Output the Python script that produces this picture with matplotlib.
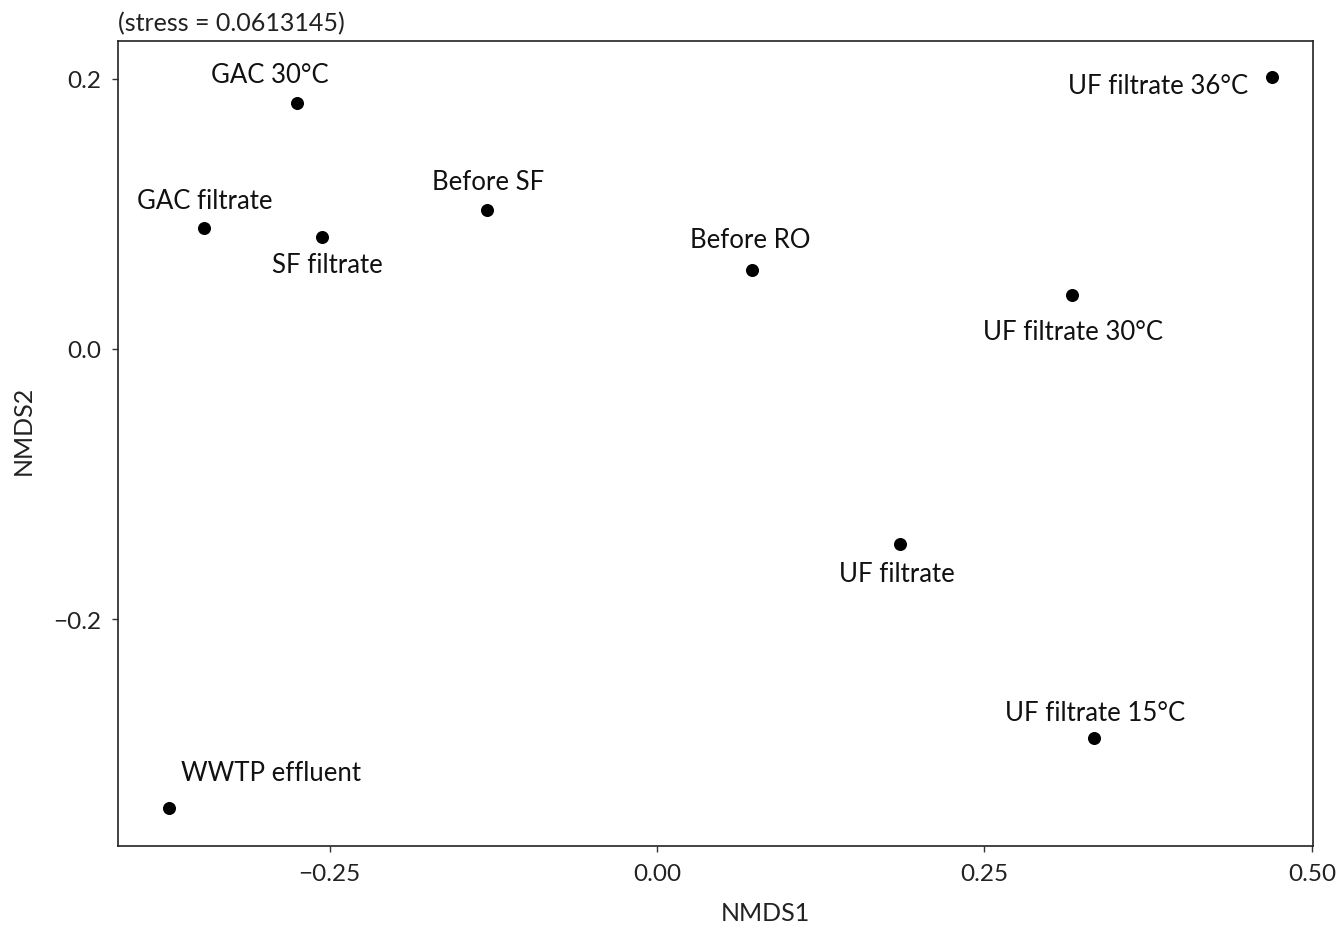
"""NMDS ordination plot of sample communities."""

import matplotlib

matplotlib.use("Agg")
import matplotlib.pyplot as plt

# sample names and NMDS scores
samples = [
    "GAC 30°C",
    "GAC filtrate",
    "SF filtrate",
    "Before SF",
    "Before RO",
    "UF filtrate 36°C",
    "UF filtrate 30°C",
    "UF filtrate",
    "UF filtrate 15°C",
    "WWTP effluent",
]
nmds1 = [-0.2748, -0.3458, -0.2557, -0.1298, 0.0725, 0.4695, 0.3168, 0.1855, 0.3336, -0.3725]
nmds2 = [0.1822, 0.0896, 0.0830, 0.1030, 0.0585, 0.2015, 0.0400, -0.1444, -0.2881, -0.3400]
stress = 0.0613145

x_ticks = [-0.25, 0.00, 0.25, 0.50]
y_ticks = [-0.2, 0.0, 0.2]

# label offsets in pixels (repel-style placement)
label_offsets = [
    (-27, 28), (1, 28), (5, -28), (1, 28), (-2, 30),
    (-114, -9), (1, -37), (-3, -30), (1, 25), (102, 36),
]

plt.rcParams["font.family"] = ["Lato", "DejaVu Sans"]

fig = plt.figure(figsize=(13.43, 9.28), dpi=100)
ax = fig.add_axes([118 / 1343, 1 - 847 / 928, 1195 / 1343, 805 / 928])

ax.scatter(nmds1, nmds2, s=70, color="black", zorder=3)
for name, x, y, (dx, dy) in zip(samples, nmds1, nmds2, label_offsets):
    ax.annotate(
        name, (x, y), xytext=(dx * 0.72, dy * 0.72), textcoords="offset points",
        ha="center", va="center", fontsize=18.5, color="#111111",
    )

ax.set_xlim(-0.4115, 0.5008)
ax.set_ylim(-0.3681, 0.2281)
ax.set_xticks(x_ticks)
ax.set_xticklabels([f"{t:.2f}".replace("-", "\u2212") for t in x_ticks])
ax.set_yticks(y_ticks)
ax.set_yticklabels([f"{t:.1f}".replace("-", "\u2212") for t in y_ticks])
ax.tick_params(labelsize=17.5, length=4, width=1, color="#333333", labelcolor="#222222", pad=8)
for spine in ax.spines.values():
    spine.set_linewidth(1.2)
    spine.set_color("#222222")

ax.set_xlabel("NMDS1", fontsize=18, color="#222222")
ax.set_ylabel("NMDS2", fontsize=18, color="#222222")
ax.xaxis.set_label_coords(0.542, -0.068)
ax.yaxis.set_label_coords(-0.07, 0.518)
ax.set_title(f"(stress = {stress})", loc="left", fontsize=18, color="#222222", pad=8)

fig.savefig("out.png", dpi=100)
plt.close(fig)
